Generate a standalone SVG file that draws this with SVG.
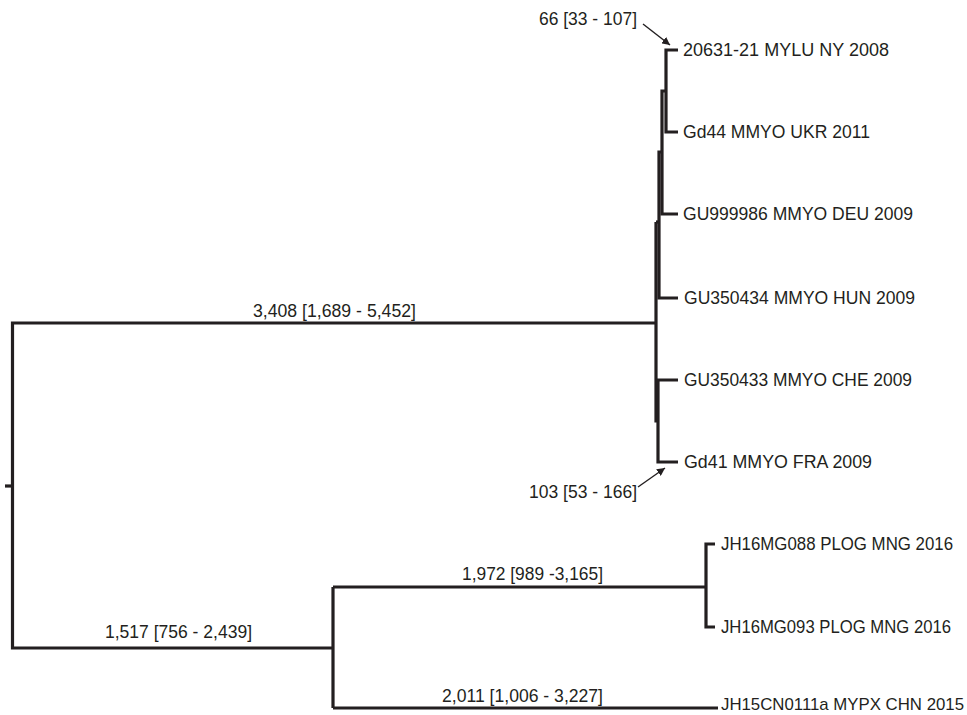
<svg xmlns="http://www.w3.org/2000/svg" width="967" height="715" viewBox="0 0 967 715">
<defs>
<style>
.br{fill:none;stroke:#231f20;stroke-width:3.2;stroke-linejoin:miter;stroke-linecap:butt}
.ptr{fill:none;stroke:#231f20;stroke-width:1.4}
text{font-family:"Liberation Sans",Arial,Helvetica,sans-serif;font-size:17.5px;fill:#231f20}
</style>
<marker id="ah" viewBox="0 0 10 10" refX="10" refY="5" markerWidth="8" markerHeight="8" markerUnits="userSpaceOnUse" orient="auto">
<path d="M0,0 L10,5 L0,10 Z" fill="#231f20"/>
</marker>
</defs>
<rect width="967" height="715" fill="#ffffff"/>
<g id="connectors">
<path class="br" d="M5,486 H13"/>
<path class="br" d="M656,323 H12.5 V648 H333"/>
<path class="br" d="M656,222 V421 H658"/>
<path class="br" d="M656,222 H659"/>
<path class="br" d="M662,152 H659 V298 H678"/>
<path class="br" d="M666,91 H662 V214 H678"/>
<path class="br" d="M678,50 H666 V132 H678"/>
<path class="br" d="M678,380 H658 V462 H678"/>
<path class="br" d="M333,587 V708"/>
<path class="br" d="M333,587 H706"/>
<path class="br" d="M333,708 H718"/>
<path class="br" d="M715,544 H706 V627 H715"/>
<line class="ptr" x1="643" y1="24" x2="670" y2="45" marker-end="url(#ah)"/>
<line class="ptr" x1="638" y1="487" x2="665" y2="468" marker-end="url(#ah)"/>
</g>
<g id="branch-labels">
<text x="539" y="25" textLength="98" lengthAdjust="spacingAndGlyphs">66 [33 - 107]</text>
<text x="529" y="498" textLength="108" lengthAdjust="spacingAndGlyphs">103 [53 - 166]</text>
<text x="253" y="317" textLength="163" lengthAdjust="spacingAndGlyphs">3,408 [1,689 - 5,452]</text>
<text x="105" y="638" textLength="147" lengthAdjust="spacingAndGlyphs">1,517 [756 - 2,439]</text>
<text x="462" y="580" textLength="141" lengthAdjust="spacingAndGlyphs">1,972 [989 -3,165]</text>
<text x="442" y="702" textLength="161" lengthAdjust="spacingAndGlyphs">2,011 [1,006 - 3,227]</text>
</g>
<g id="tip-20631-21"><text x="683" y="56" textLength="206" lengthAdjust="spacingAndGlyphs">20631-21 MYLU NY 2008</text></g>
<g id="tip-Gd44"><text x="683" y="138" textLength="187" lengthAdjust="spacingAndGlyphs">Gd44 MMYO UKR 2011</text></g>
<g id="tip-GU999986"><text x="683" y="220" textLength="230" lengthAdjust="spacingAndGlyphs">GU999986 MMYO DEU 2009</text></g>
<g id="tip-GU350434"><text x="684" y="304" textLength="231" lengthAdjust="spacingAndGlyphs">GU350434 MMYO HUN 2009</text></g>
<g id="tip-GU350433"><text x="684" y="386" textLength="228" lengthAdjust="spacingAndGlyphs">GU350433 MMYO CHE 2009</text></g>
<g id="tip-Gd41"><text x="684" y="468" textLength="188" lengthAdjust="spacingAndGlyphs">Gd41 MMYO FRA 2009</text></g>
<g id="tip-JH16MG088"><text x="721" y="550" textLength="232" lengthAdjust="spacingAndGlyphs">JH16MG088 PLOG MNG 2016</text></g>
<g id="tip-JH16MG093"><text x="721" y="633" textLength="230" lengthAdjust="spacingAndGlyphs">JH16MG093 PLOG MNG 2016</text></g>
<g id="tip-JH15CN0111a"><text x="721" y="710" style="font-size:16.4px" textLength="243" lengthAdjust="spacingAndGlyphs">JH15CN0111a MYPX CHN 2015</text></g>
</svg>
